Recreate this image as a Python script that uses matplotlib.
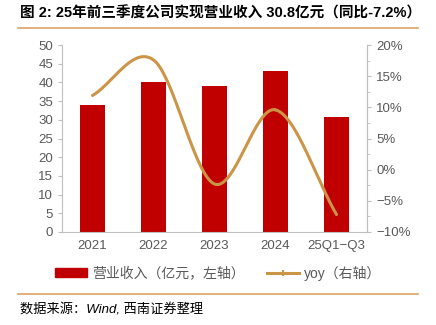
import matplotlib
matplotlib.use("Agg")
import matplotlib.pyplot as plt
import numpy as np
from matplotlib.lines import Line2D
from matplotlib.patches import Patch
from matplotlib.ticker import FuncFormatter, MultipleLocator

plt.rcParams['font.family'] = ['Liberation Sans', 'Noto Sans CJK SC', 'DejaVu Sans']

categories = ["2021", "2022", "2023", "2024", "25Q1-Q3"]
revenue = [34.0, 40.1, 39.1, 43.0, 30.8]
yoy = [11.9, 17.6, -2.3, 9.6, -7.2]

BAR = "#C00000"
LINE = "#CC9446"
GRAY = "#BFBFBF"
TXT = "#595959"

fig = plt.figure(figsize=(4.36, 3.25), dpi=100)
ax = fig.add_axes([62/436, 1-232/325, (367-62)/436, (232-45)/325])
x = np.arange(len(categories))
ax.bar(x, revenue, width=0.42, color=BAR, zorder=2)
ax.set_xlim(-0.5, len(categories)-0.5)
ax.set_ylim(0, 50)
ax.set_yticks(np.arange(0, 51, 5))
ax.set_xticks(x)
ax.set_xticklabels([c.replace("-", "\u2212") for c in categories])
ax.tick_params(axis='both', colors=GRAY, labelcolor=TXT, labelsize=9.5, length=3)
ax.tick_params(axis='x', length=0, pad=6)
ax.spines['top'].set_visible(False)
for s in ['left', 'bottom', 'right']:
    ax.spines[s].set_color(GRAY)

ax2 = ax.twinx()
ax2.set_ylim(-10, 20)
ax2.set_yticks(np.arange(-10, 21, 5))
ax2.yaxis.set_minor_locator(MultipleLocator(2.5))
ax2.yaxis.set_major_formatter(FuncFormatter(lambda v, p: f"{v:.0f}%".replace("-", "\u2212")))
ax2.tick_params(axis='y', colors=GRAY, labelcolor=TXT, labelsize=9.5, length=3)
ax2.tick_params(axis='y', which='minor', colors=GRAY, length=2)
for s in ['top', 'left', 'bottom']:
    ax2.spines[s].set_visible(False)
ax2.spines['right'].set_color(GRAY)

# Catmull-Rom smoothing through data points
px = np.array(x, dtype=float)
py = np.array(yoy, dtype=float)
P = np.column_stack([px, py])
P = np.vstack([P[0] - (P[1] - P[0]), P, P[-1] + (P[-1] - P[-2])])
pts = []
t = np.linspace(0, 1, 40)
for i in range(1, len(P) - 2):
    p0, p1, p2, p3 = P[i-1], P[i], P[i+1], P[i+2]
    for tt in t:
        t2, t3 = tt*tt, tt*tt*tt
        pt = 0.5*((2*p1) + (-p0 + p2)*tt + (2*p0 - 5*p1 + 4*p2 - p3)*t2 + (-p0 + 3*p1 - 3*p2 + p3)*t3)
        pts.append(pt)
pts = np.array(pts)
ax2.plot(pts[:, 0], pts[:, 1], color=LINE, lw=2.2, zorder=3, solid_capstyle='round')

# Title
fig.text(20/436, 1-13/325, "图 2: 25年前三季度公司实现营业收入 30.8亿元（同比-7.2%）",
         fontsize=10.5, fontweight='bold', color='black', va='center', ha='left',
         family=['Liberation Sans', 'Noto Sans CJK SC'])
fig.add_artist(Line2D([18/436, 418/436], [1-28/325, 1-28/325], color="#D9A463", lw=1.2))
fig.add_artist(Line2D([18/436, 418/436], [1-294/325, 1-294/325], color="#D9A463", lw=1.2))
fig.text(20/436, 1-310/325, "数据来源：Wind, 西南证券整理", fontsize=9.5, style='italic',
         color='black', va='center', ha='left')

handles = [Patch(color=BAR), Line2D([0], [0], color=LINE, lw=2.2, marker='|', markersize=5, markeredgewidth=1.5)]
labels = ["营业收入（亿元，左轴）", "yoy（右轴）"]
fig.legend(handles, labels, loc='center', bbox_to_anchor=(218/436, 1-273/325), ncol=2,
           frameon=False, fontsize=10, handlelength=2.3, handleheight=0.6, columnspacing=1.6,
           labelcolor=TXT, handletextpad=0.35)

fig.savefig("out.png", dpi=100)
